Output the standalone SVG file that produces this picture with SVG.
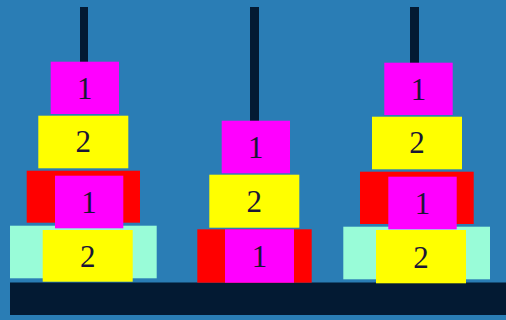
<svg xmlns="http://www.w3.org/2000/svg" width="506" height="320" viewBox="0 0 506 320">
<style>
.peg{fill:#031a33}
.m{fill:#ff00ff}
.y{fill:#ffff00}
.r{fill:#ff0000}
.c{fill:#99fcd8}
text{font-family:"Liberation Serif","Times New Roman",serif;font-size:31px;fill:#1a1636;text-anchor:middle}
</style>
<rect width="506" height="320" fill="#2a7db5"/>
<g id="pegs">
<rect class="peg" x="80" y="7" width="8" height="60"/>
<rect class="peg" x="250" y="7" width="9" height="115"/>
<rect class="peg" x="410" y="7" width="9" height="60"/>
<rect class="peg" x="10" y="282.5" width="496" height="32.5"/>
</g>
<g id="tower-left">
<g id="L-cyan"><rect class="c" x="10" y="225.7" width="146.7" height="52.6"/></g>
<g id="L-red"><rect class="r" x="26.7" y="170.7" width="113.3" height="52"/></g>
<g id="L-yellow-top"><rect class="y" x="38.3" y="115.7" width="90" height="52.6"/><text x="83.3" y="152">2</text></g>
<g id="L-magenta-top"><rect class="m" x="50.7" y="61.7" width="68.3" height="52.3"/><text x="84.8" y="99">1</text></g>
<g id="L-magenta-in"><rect class="m" x="55" y="175.7" width="68.3" height="52.6"/><text x="89" y="213">1</text></g>
<g id="L-yellow-in"><rect class="y" x="42.7" y="230" width="90" height="51.7"/><text x="87.7" y="267">2</text></g>
</g>
<g id="tower-mid">
<g id="M-red"><rect class="r" x="197.3" y="229.3" width="114.4" height="53.4"/></g>
<g id="M-magenta-in"><rect class="m" x="225" y="229.3" width="69" height="53.4"/><text x="259.5" y="267">1</text></g>
<g id="M-yellow"><rect class="y" x="209.3" y="174.7" width="90" height="53"/><text x="254.3" y="212">2</text></g>
<g id="M-magenta"><rect class="m" x="221.7" y="120.7" width="68.3" height="52.6"/><text x="255.8" y="158">1</text></g>
</g>
<g id="tower-right">
<g id="R-cyan"><rect class="c" x="343.3" y="226.7" width="146.7" height="52.6"/></g>
<g id="R-red"><rect class="r" x="360" y="171.7" width="113.7" height="52.3"/></g>
<g id="R-yellow-top"><rect class="y" x="372" y="116.7" width="90" height="52.6"/><text x="417" y="153">2</text></g>
<g id="R-magenta-top"><rect class="m" x="384.3" y="62.7" width="68.4" height="52.3"/><text x="418.5" y="100">1</text></g>
<g id="R-magenta-in"><rect class="m" x="388.3" y="176.7" width="68.4" height="52.6"/><text x="422.5" y="214">1</text></g>
<g id="R-yellow-in"><rect class="y" x="376" y="230" width="90" height="53.3"/><text x="421" y="268">2</text></g>
</g>
</svg>
